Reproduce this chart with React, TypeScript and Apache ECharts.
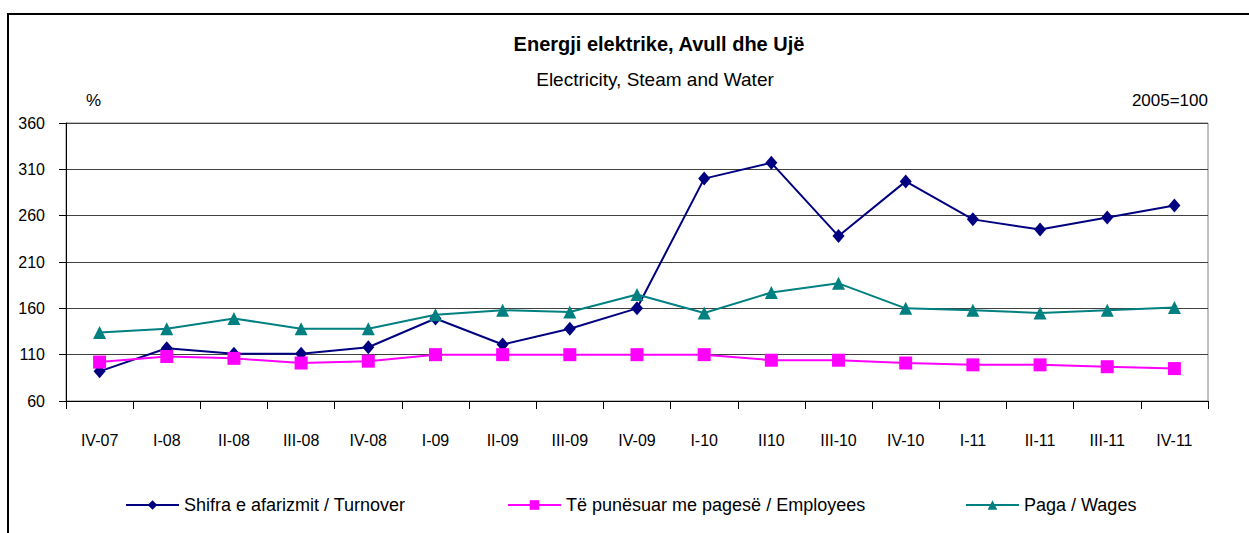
import React, { useEffect, useRef } from "react";
import * as echarts from "echarts";

const categories = [
  "IV-07", "I-08", "II-08", "III-08", "IV-08", "I-09", "II-09", "III-09", "IV-09",
  "I-10", "II10", "III-10", "IV-10", "I-11", "II-11", "III-11", "IV-11",
];
const turnover = [92, 117, 111, 111, 118, 149, 121, 138, 160, 300, 317, 238, 297, 256, 245, 258, 271];
const employees = [102, 108, 106, 101, 103, 110, 110, 110, 110, 110, 104, 104, 101, 99, 99, 97, 95];
const wages = [134, 138, 149, 138, 138, 153, 158, 156, 175, 155, 177, 187, 160, 158, 155, 158, 161];
const yTicks = [60, 110, 160, 210, 260, 310, 360];

const titleMain = "Energji elektrike, Avull dhe Ujë";
const titleSub = "Electricity, Steam and Water";
const unitLeft = "%";
const unitRight = "2005=100";
const names = [
  "Shifra e afarizmit / Turnover",
  "Të punësuar me pagesë / Employees",
  "Paga / Wages",
];

const FONT = "'Liberation Sans', Arial, sans-serif";

export default function App() {
  const ref = useRef<HTMLDivElement>(null);
  useEffect(() => {
    if (!ref.current) return;
    const chart = echarts.init(ref.current, null, { renderer: "svg" });
    const legendBase = {
      top: 491,
      itemWidth: 53,
      itemHeight: 12,
      itemGap: 20,
      textStyle: { fontFamily: FONT, fontSize: 18, color: "#000" },
    };
    chart.setOption({
      animation: false,
      backgroundColor: "#fff",
      textStyle: { fontFamily: FONT },
      title: [
        {
          text: titleMain,
          left: 654,
          top: 29,
          textAlign: "center",
          textStyle: { fontFamily: FONT, fontSize: 20, fontWeight: "bold", color: "#000" },
        },
        {
          text: titleSub,
          left: 650,
          top: 65,
          textAlign: "center",
          textStyle: { fontFamily: FONT, fontSize: 19, fontWeight: "normal", color: "#000" },
        },
      ],
      legend: [
        { ...legendBase, left: 120, data: [names[0]] },
        { ...legendBase, left: 502, data: [names[1]] },
        { ...legendBase, left: 960, data: [names[2]] },
      ],
      graphic: [
        {
          type: "rect",
          shape: { x: 8, y: 14, width: 1300, height: 600 },
          style: { fill: "none", stroke: "#000", lineWidth: 2 },
          silent: true,
        },
        {
          type: "text",
          x: 86,
          y: 92,
          style: { text: unitLeft, fontFamily: FONT, fontSize: 17, fill: "#000" },
        },
        {
          type: "text",
          x: 1208,
          y: 92,
          style: { text: unitRight, fontFamily: FONT, fontSize: 17, fill: "#000", align: "right" },
        },
      ],
      grid: {
        left: 66,
        top: 123,
        width: 1142,
        height: 278,
        show: true,
        borderColor: "#808080",
        borderWidth: 1,
        containLabel: false,
      },
      xAxis: {
        type: "category",
        data: categories,
        boundaryGap: true,
        axisLine: { lineStyle: { color: "#000", width: 1 } },
        axisTick: { show: true, length: 8, inside: false, lineStyle: { color: "#000" } },
        axisLabel: { fontFamily: FONT, fontSize: 16, color: "#000", margin: 31, interval: 0 },
      },
      yAxis: {
        type: "value",
        min: 60,
        max: 360,
        axisLine: { show: true, lineStyle: { color: "#000", width: 1 } },
        axisTick: { show: true, length: 7, customValues: yTicks, lineStyle: { color: "#000" } },
        axisLabel: { fontFamily: FONT, fontSize: 16, color: "#000", margin: 21, customValues: yTicks },
        splitLine: { show: true, lineStyle: { color: "#404040", width: 1 } },
      },
      series: [
        {
          name: names[0],
          type: "line",
          data: turnover,
          symbol: "diamond",
          symbolSize: [12, 14],
          lineStyle: { color: "#000080", width: 2 },
          itemStyle: { color: "#000080" },
        },
        {
          name: names[1],
          type: "line",
          data: employees,
          symbol: "rect",
          symbolSize: 13,
          lineStyle: { color: "#FF00FF", width: 2 },
          itemStyle: { color: "#FF00FF" },
        },
        {
          name: names[2],
          type: "line",
          data: wages,
          symbol: "triangle",
          symbolSize: 13,
          lineStyle: { color: "#008080", width: 2 },
          itemStyle: { color: "#008080" },
        },
      ],
    });
    return () => chart.dispose();
  }, []);
  return (
    <div
      ref={ref}
      style={{ position: "absolute", left: 0, top: 0, width: 1249, height: 533 }}
    />
  );
}
